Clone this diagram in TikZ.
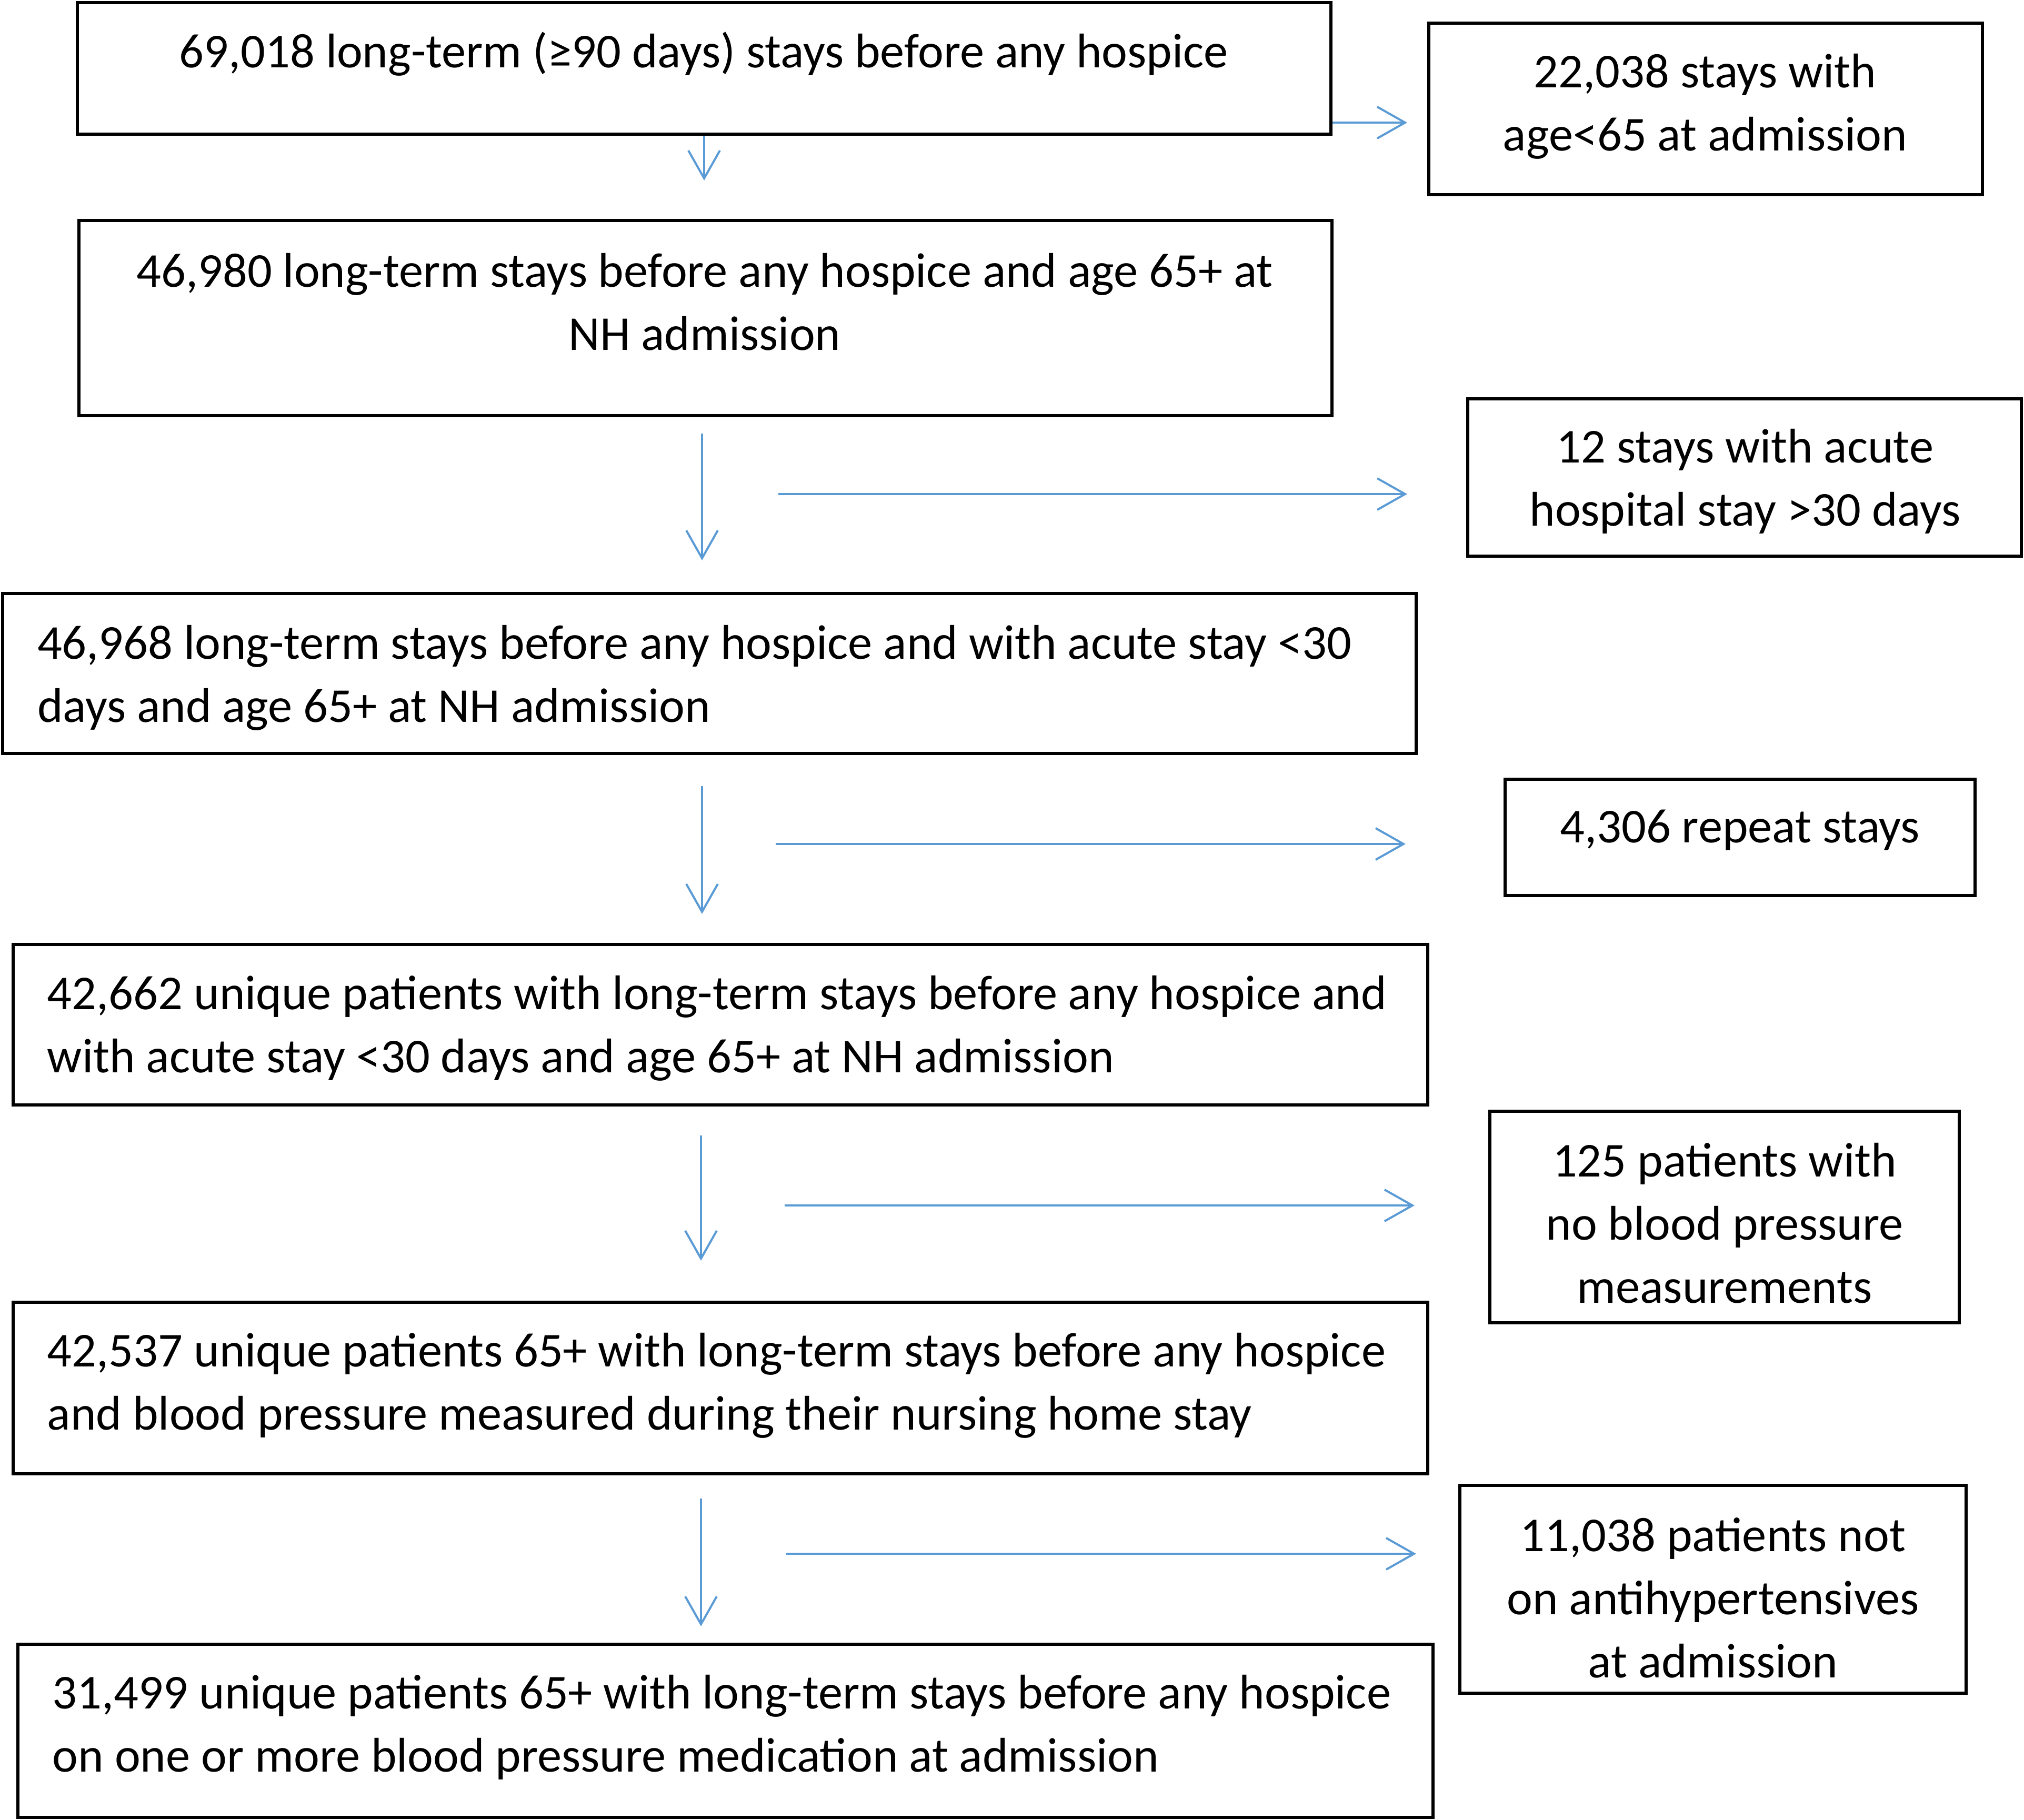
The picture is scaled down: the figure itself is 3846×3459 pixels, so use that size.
\documentclass[tikz,border=0pt]{standalone}
\usepackage{fontspec}
\setmainfont{Carlito}
\usetikzlibrary{arrows.meta,calc}
\definecolor{arrowblue}{HTML}{5B9BD5}
\begin{document}
\begin{tikzpicture}[x=0.1pt,y=-0.1pt,
  box/.style={draw=black,line width=0.6pt,rectangle,inner sep=0pt},
  txt/.style={inner sep=0pt,font=\fontsize{9.25pt}{12pt}\selectfont},
  ctxt/.style={txt,align=center},
  ltxt/.style={txt,align=left,anchor=west},
  flow/.style={draw=arrowblue,line width=0.4pt,-{Straight Barb[length=5.3pt,width=6pt]}}]
\useasboundingbox (0,0) rectangle (3846,3459);

% boxes
\node[box,minimum width=238.2pt,minimum height=25.0pt] (b1) at (1338,130) {};
\node[box,minimum width=105.2pt,minimum height=32.6pt] (b2) at (3241,207) {};
\node[box,minimum width=238.1pt,minimum height=37.1pt] (b3) at (1340.5,604.5) {};
\node[box,minimum width=105.2pt,minimum height=29.9pt] (b4) at (3315,907.5) {};
\node[box,minimum width=268.6pt,minimum height=30.4pt] (b5) at (1348,1280) {};
\node[box,minimum width=89.3pt,minimum height=22.1pt] (b6) at (3306.5,1591.5) {};
\node[box,minimum width=268.8pt,minimum height=30.5pt] (b7) at (1369,1947.5) {};
\node[box,minimum width=89.2pt,minimum height=40.2pt] (b8) at (3277,2313) {};
\node[box,minimum width=268.8pt,minimum height=32.6pt] (b9) at (1369,2638) {};
\node[box,minimum width=96.2pt,minimum height=39.5pt] (b10) at (3255,3020.5) {};
\node[box,minimum width=268.9pt,minimum height=32.9pt] (b11) at (1378.5,3289.5) {};

% texts
\node[ctxt] (t1) at (1337,103) {69,018 long-term (≥90 days) stays before any hospice};
\node[ctxt] (t2) at (3240,202.5) {22,038 stays with\\age<65 at admission};
\node[ctxt] (t3) at (1339,574) {46,980 long-term stays before any hospice and age 65+ at\\NH admission};
\node[ctxt] (t4) at (3316,915) {12 stays with acute\\hospital stay >30 days};
\node[ltxt] (t5) at (69,1288) {46,968 long-term stays before any hospice and with acute stay <30\\days and age 65+ at NH admission};
\node[ctxt] (t6) at (3306,1578) {4,306 repeat stays};
\node[ltxt] (t7) at (88,1954) {42,662 unique patients with long-term stays before any hospice and\\with acute stay <30 days and age 65+ at NH admission};
\node[ctxt] (t8) at (3277,2325) {125 patients with\\no blood pressure\\measurements};
\node[ltxt] (t9) at (88,2633) {42,537 unique patients 65+ with long-term stays before any hospice\\and blood pressure measured during their nursing home stay};
\node[ctxt] (t10) at (3255,3036.5) {11,038 patients not\\on antihypertensives\\at admission};
\node[ltxt] (t11) at (98,3283) {31,499 unique patients 65+ with long-term stays before any hospice\\on one or more blood pressure medication at admission};

% arrow end points
\coordinate (h1e) at (2674,233);
\coordinate (v1e) at (1338,343);
\coordinate (v2s) at (1334,824);   \coordinate (v2e) at (1334,1065);
\coordinate (h2s) at (1479,939);   \coordinate (h2e) at (2674,939);
\coordinate (v3s) at (1334,1494);  \coordinate (v3e) at (1334,1737);
\coordinate (h3s) at (1474,1604);  \coordinate (h3e) at (2671,1604);
\coordinate (v4s) at (1332,2158);  \coordinate (v4e) at (1332,2396);
\coordinate (h4s) at (1491,2291);  \coordinate (h4e) at (2688,2291);
\coordinate (v5s) at (1332,2848);  \coordinate (v5e) at (1332,3091);
\coordinate (h5s) at (1494,2953);  \coordinate (h5e) at (2691,2953);

% arrows
\draw[flow] (b1.east |- h1e) -- (h1e);
\draw[flow] (b1.south) -- (v1e);
\draw[flow] (v2s) -- (v2e);
\draw[flow] (h2s) -- (h2e);
\draw[flow] (v3s) -- (v3e);
\draw[flow] (h3s) -- (h3e);
\draw[flow] (v4s) -- (v4e);
\draw[flow] (h4s) -- (h4e);
\draw[flow] (v5s) -- (v5e);
\draw[flow] (h5s) -- (h5e);
\end{tikzpicture}
\end{document}
